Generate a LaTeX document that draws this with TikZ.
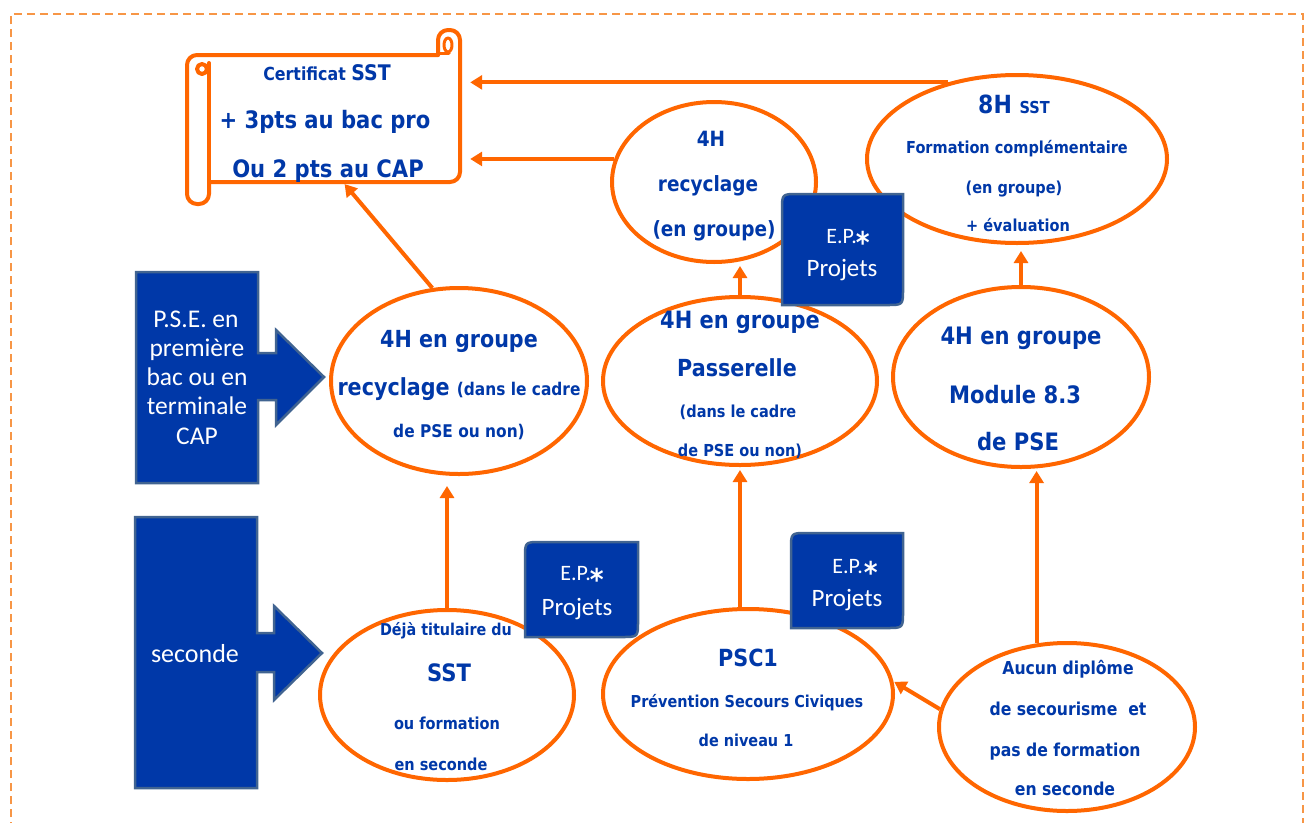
\documentclass[tikz,border=0pt]{standalone}
\usepackage{fontspec}
\setmainfont{Carlito}
\newfontfamily\tah[FakeStretch=0.88]{DejaVu Sans}
\usetikzlibrary{shapes.geometric,arrows.meta}
\definecolor{ob}{RGB}{255,102,0}
\definecolor{bt}{RGB}{0,56,168}
\definecolor{bb}{RGB}{0,56,168}
\definecolor{bd}{RGB}{65,100,145}
\definecolor{bordc}{RGB}{247,150,70}
\newcommand\fsz[1]{\fontsize{#1}{#1}\selectfont}
\newcommand\epstar{{\tah\bfseries\fsz{30}\raisebox{-10pt}[0pt][0pt]{*}}}
\newcommand\epshape[4]{\draw[bluebox] (#1,#4) -- (#1,#2+16) .. controls (#1,#2) .. (#1+16,#2) -- (#3,#2) -- (#3,#4-16) .. controls (#3,#4) .. (#3-16,#4) -- cycle;}
\begin{document}
\begin{tikzpicture}[x=1pt,y=-1pt,
  ell/.style={ellipse, draw=ob, line width=4pt, fill=white, inner sep=0pt},
  conn/.style={draw=ob, line width=4pt, -{Triangle[length=12pt,width=14pt]}},
  scroll/.style={draw=ob, line width=4pt, line join=round, line cap=round},
  bluebox/.style={fill=bb, draw=bd, line width=2.5pt, line join=miter},
  tx/.style={text=bt, inner sep=0pt, anchor=base, font=\tah\bfseries\fsz{#1}},
  wt/.style={text=white, inner sep=0pt, anchor=base, font=\fsz{#1}},
]
\clip (0,0) rectangle (1306,822);
\useasboundingbox (0,0) rectangle (1306,822);
\fill[white] (0,0) rectangle (1306,822);
% dashed frame
\draw[draw=bordc, line width=2.5pt, dash pattern=on 8pt off 5pt] (11,830) -- (11,14) -- (1303,14) -- (1303,830);

% certificate scroll
\node[minimum width=260pt, minimum height=127pt, inner sep=0pt] (cert) at (330,118.5) {};
\coordinate (cb) at (342,181);
\draw[scroll, rounded corners=10pt] (209,182) -- (209,204) -- (187,204) -- (187,55) -- (438,55);
\draw[scroll] (209,63) -- (209,182);
\draw[scroll] (202,69) circle[radius=5];
\draw[scroll, rounded corners=10pt] (438,55) -- (438,30) -- (460,30) -- (460,182) -- (209,182);
\draw[scroll, line width=3pt] (448,45) ellipse[x radius=4, y radius=7];
\draw[scroll, line width=3pt] (440,53) -- (449,53);
\node[tx=18] (c1) at (327,80) {Certificat {\fsz{21.5}SST}};
\node[tx=24] (c2) at (325,128) {+ 3pts au bac pro};
\node[tx=24] (c3) at (328,177) {Ou 2 pts au CAP};

% blue boxes with arrows
\draw[bluebox] (136,272) -- (258,272) -- (258,353) -- (276,353) -- (276,330) -- (324,377) -- (276,425) -- (276,400) -- (258,400) -- (258,483) -- (136,483) -- cycle;
\node[wt=25.5] (p1) at (196,327) {P.S.E. en};
\node[wt=25.5] (p2) at (197,356) {première};
\node[wt=25.5] (p3) at (197,385) {bac ou en};
\node[wt=25.5] (p4) at (197,414) {terminale};
\node[wt=25.5] (p5) at (197,444) {CAP};
\draw[bluebox] (135,517) -- (257,517) -- (257,633) -- (274,633) -- (274,606) -- (322,653) -- (274,700) -- (274,672) -- (257,672) -- (257,788) -- (135,788) -- cycle;
\node[wt=26] (s1) at (195,662) {seconde};

% ellipses
\node[ell, minimum width=256pt, minimum height=186pt] (e1) at (459,381) {};
\node[ell, minimum width=274pt, minimum height=168pt] (e2) at (740,381) {};
\node[ell, minimum width=256pt, minimum height=180pt] (e3) at (1021,377) {};
\node[ell, minimum width=204pt, minimum height=160pt] (e4) at (714,182) {};
\node[ell, minimum width=300pt, minimum height=168pt] (e5) at (1017,159) {};
\node[ell, minimum width=254pt, minimum height=170pt] (e6) at (447,695) {};
\node[ell, minimum width=290pt, minimum height=170pt] (e7) at (748,694) {};
\node[ell, minimum width=256pt, minimum height=168pt] (e8) at (1067,727) {};

% connectors
\draw[conn, shorten >=10pt] (e5.132) -- (e5.132 -| cert.east);
\draw[conn, shorten >=10pt] (e4.167) -- (e4.167 -| cert.east);
\draw[conn, shorten >=4pt] (e1.106) -- (cb);
\draw[conn, shorten >=10pt] (e6.north) -- (e6.north |- e1.south);
\draw[conn, shorten >=3pt] (e2.south |- e7.north) -- (e2.south);
\draw[conn, shorten >=2pt] (e2.north) -- (e2.north |- e4.south);
\draw[conn, shorten >=2pt] (e8.110) -- (e8.110 |- e3.south);
\draw[conn, shorten >=6pt] (e3.north) -- (e3.north |- e5.south);
\draw[conn, shorten >=1pt] (e8.172) -- (e7.5);

% ellipse texts
\node[tx=23.5] (t1a) at (459,347) {4H en groupe};
\node[tx=23.5] (t1b) at (459,395) {recyclage {\fsz{17.5}(dans le cadre}};
\node[tx=17.5] (t1c) at (459,437) {de PSE ou non)};

\node[tx=23.8] (t2a) at (740,328) {4H en groupe};
\node[tx=23.5] (t2b) at (737,376) {Passerelle};
\node[tx=16.5] (t2c) at (738,417) {(dans le cadre};
\node[tx=16.5] (t2d) at (740,456) {de PSE ou non)};

\node[tx=24] (t3a) at (1021,344) {4H en groupe};
\node[tx=24] (t3b) at (1015,403) {Module 8.3};
\node[tx=24] (t3c) at (1018,450) {de PSE};

\node[tx=21] (t4a) at (711,146) {4H};
\node[tx=21] (t4b) at (708,191) {recyclage};
\node[tx=21] (t4c) at (714,236) {(en groupe)};

\node[tx=25] (t5a) at (1014,113) {8H {\fsz{16.5}SST}};
\node[tx=16.5] (t5b) at (1017,153) {Formation complémentaire};
\node[tx=16.5] (t5c) at (1014,193) {(en groupe)};
\node[tx=16.5] (t5d) at (1018,231) {+ évaluation};

\node[tx=16.3] (t6a) at (446,635) {Déjà titulaire du};
\node[tx=24] (t6b) at (449,681) {SST};
\node[tx=16.5] (t6c) at (447,729) {ou formation};
\node[tx=16.5] (t6d) at (441,770) {en seconde};

\node[tx=23.6] (t7a) at (748,666) {PSC1};
\node[tx=16.4] (t7b) at (747,707) {Prévention Secours Civiques};
\node[tx=16.4] (t7c) at (746,746) {de niveau 1};

\node[tx=17.8] (t8a) at (1068,674) {Aucun diplôme};
\node[tx=17.8] (t8b) at (1068,715) {de secourisme\ \ et};
\node[tx=17.8] (t8c) at (1065,756) {pas de formation};
\node[tx=17.8] (t8d) at (1065,795) {en seconde};

% E.P. boxes
\epshape{525}{542}{638}{637}
\node[wt=22] (ep1a) at (582,580) {E.P.\kern-1pt\epstar};
\node[wt=25] (ep1b) at (577,615) {Projets};
\epshape{791}{533}{903}{628}
\node[wt=22] (ep2a) at (855,573) {E.P.\kern1pt\epstar};
\node[wt=25] (ep2b) at (847,606) {Projets};
\epshape{782}{194}{903}{305}
\node[wt=22] (ep3a) at (848,243) {E.P.\kern-1pt\epstar};
\node[wt=25] (ep3b) at (842,276) {Projets};
\end{tikzpicture}
\end{document}
